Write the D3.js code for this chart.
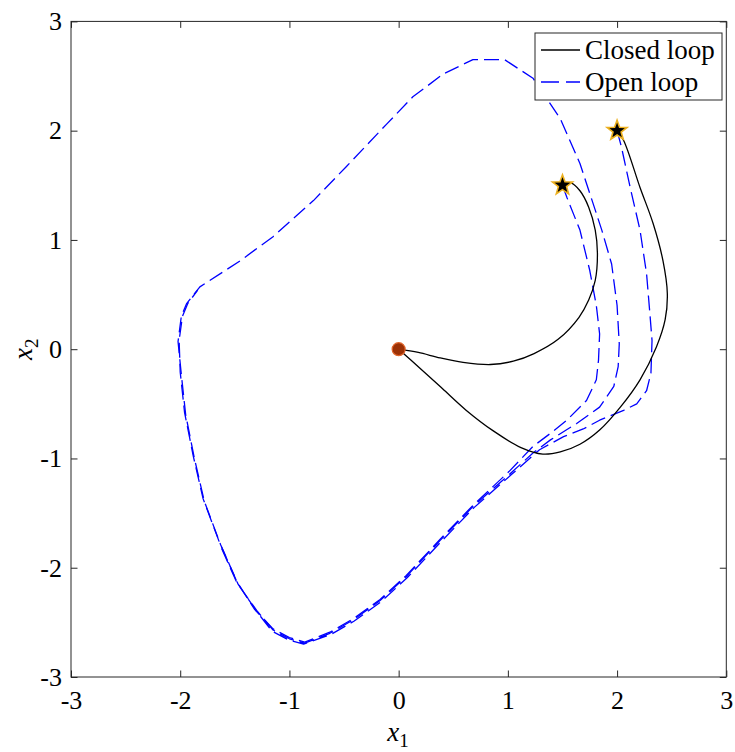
<!DOCTYPE html>
<html>
<head>
<meta charset="utf-8">
<script src="https://cdn.jsdelivr.net/npm/d3@7"></script>
<style>
  html, body { margin: 0; padding: 0; background: #fff; }
  svg { display: block; }
</style>
</head>
<body>
<div id="chart"></div>
<script>
// ---------------- Data ----------------
const xTickValues = [-3, -2, -1, 0, 1, 2, 3];
const yTickValues = [-3, -2, -1, 0, 1, 2, 3];
const xTickLabels = ["-3", "-2", "-1", "0", "1", "2", "3"];
const yTickLabels = ["-3", "-2", "-1", "0", "1", "2", "3"];

const seriesNames = ["Closed loop", "Open loop"];

const startPoints = [[1.5, 1.5], [2, 2]];
const equilibrium = [0, 0];

const closedLoop1 = [
  [1.5, 1.5], [1.58, 1.52], [1.66, 1.45], [1.74, 1.30], [1.80, 1.09], [1.82, 0.88],
  [1.80, 0.63], [1.74, 0.45], [1.65, 0.29], [1.46, 0.09], [1.24, -0.04], [1.05, -0.11],
  [0.84, -0.14], [0.59, -0.12], [0.38, -0.08], [0.18, -0.03], [0, 0]
];

const closedLoop2 = [
  [2, 2], [2.06, 1.91], [2.21, 1.48], [2.33, 1.15], [2.42, 0.81], [2.46, 0.51],
  [2.44, 0.27], [2.36, 0.02], [2.21, -0.28], [2.03, -0.53], [1.84, -0.74], [1.66, -0.87],
  [1.48, -0.94], [1.32, -0.96], [1.12, -0.90], [0.87, -0.75], [0.62, -0.56], [0.40, -0.36],
  [0.19, -0.17], [0, 0]
];

const openLoop1 = [
  [1.5, 1.5], [1.54, 1.39], [1.66, 1.09], [1.75, 0.72], [1.81, 0.40], [1.84, 0.14],
  [1.83, -0.10], [1.81, -0.28], [1.72, -0.47], [1.54, -0.65], [1.39, -0.77], [1.23, -0.89],
  [1.01, -1.12], [0.68, -1.43], [0.38, -1.74], [0.07, -2.07], [-0.17, -2.29], [-0.42, -2.47],
  [-0.63, -2.59], [-0.86, -2.68], [-1.00, -2.64], [-1.15, -2.56], [-1.32, -2.38], [-1.48, -2.13],
  [-1.64, -1.77], [-1.79, -1.37], [-1.88, -0.98], [-1.96, -0.58], [-2.00, -0.21], [-2.01, 0.08],
  [-1.98, 0.30], [-1.93, 0.42], [-1.84, 0.54]
];

const openLoop2 = [
  [2, 2], [2.04, 1.85], [2.12, 1.48], [2.21, 1.09], [2.27, 0.69], [2.30, 0.33], [2.32, 0.08],
  [2.31, -0.22], [2.27, -0.38], [2.18, -0.50], [2.06, -0.56], [1.84, -0.65], [1.69, -0.73],
  [1.51, -0.80], [1.29, -0.92], [1.03, -1.15], [0.69, -1.45], [0.39, -1.76], [0.08, -2.09],
  [-0.16, -2.31], [-0.41, -2.49], [-0.62, -2.61], [-0.87, -2.70], [-1.01, -2.66], [-1.16, -2.58],
  [-1.30, -2.40], [-1.47, -2.15], [-1.63, -1.79], [-1.78, -1.39], [-1.87, -1.00], [-1.95, -0.60],
  [-1.99, -0.23], [-2.02, 0.07], [-1.99, 0.30], [-1.94, 0.42], [-1.82, 0.57], [-1.45, 0.81],
  [-1.15, 1.03], [-0.78, 1.36], [-0.48, 1.67], [-0.11, 2.06], [0.13, 2.31], [0.41, 2.52],
  [0.68, 2.65], [0.97, 2.65], [1.23, 2.48], [1.48, 2.11], [1.66, 1.70], [1.86, 1.09],
  [1.95, 0.78], [2.00, 0.40], [2.02, 0.05], [2.01, -0.16], [1.97, -0.34], [1.84, -0.53],
  [1.63, -0.68], [1.39, -0.83], [1.23, -0.95], [1.02, -1.14], [0.68, -1.44], [0.38, -1.75],
  [0.07, -2.08], [-0.17, -2.30], [-0.42, -2.48], [-0.63, -2.60], [-0.86, -2.69], [-1.00, -2.65],
  [-1.15, -2.57], [-1.30, -2.39], [-1.48, -2.14], [-1.64, -1.78]
];

// ---------------- Layout ----------------
const W = 735, H = 752;
const plot = { left: 71, right: 726.3, top: 21.4, bottom: 677 };
const serif = "'Liberation Serif', 'Times New Roman', serif";
const axisColor = "#262626";

const svg = d3.select("#chart").append("svg")
  .attr("width", W).attr("height", H)
  .attr("viewBox", `0 0 ${W} ${H}`);

svg.append("rect").attr("width", W).attr("height", H).attr("fill", "#fff");

const x = d3.scaleLinear().domain([-3, 3]).range([plot.left, plot.right]);
const y = d3.scaleLinear().domain([-3, 3]).range([plot.bottom, plot.top]);

svg.append("clipPath").attr("id", "clip")
  .append("rect").attr("x", plot.left).attr("y", plot.top)
  .attr("width", plot.right - plot.left).attr("height", plot.bottom - plot.top);

const g = svg.append("g").attr("clip-path", "url(#clip)");

const smoothLine = d3.line().x(d => x(d[0])).y(d => y(d[1])).curve(d3.curveCatmullRom.alpha(0.5));
const polyLine = d3.line().x(d => x(d[0])).y(d => y(d[1])).curve(d3.curveLinear);

// open loop (dashed blue)
[openLoop1, openLoop2].forEach(data => {
  g.append("path").datum(data)
    .attr("d", polyLine)
    .attr("fill", "none")
    .attr("stroke", "#0000FF")
    .attr("stroke-width", 1.3)
    .attr("stroke-linejoin", "round")
    .attr("stroke-dasharray", "15,6");
});

// closed loop (solid black)
[closedLoop1, closedLoop2].forEach(data => {
  g.append("path").datum(data)
    .attr("d", smoothLine)
    .attr("fill", "none")
    .attr("stroke", "#000")
    .attr("stroke-width", 1.3);
});

// star markers
function starPath(R, r) {
  const pts = [];
  for (let i = 0; i < 10; i++) {
    const a = -Math.PI / 2 + i * Math.PI / 5;
    const rr = i % 2 === 0 ? R : r;
    pts.push([rr * Math.cos(a), rr * Math.sin(a)]);
  }
  return "M" + pts.map(p => p[0].toFixed(2) + "," + p[1].toFixed(2)).join("L") + "Z";
}
startPoints.forEach(p => {
  g.append("path")
    .attr("d", starPath(10.5, 4.3))
    .attr("transform", `translate(${x(p[0])},${y(p[1])})`)
    .attr("fill", "#000")
    .attr("stroke", "#EDB120")
    .attr("stroke-width", 1.6)
    .attr("stroke-linejoin", "miter");
});

// equilibrium marker
g.append("circle")
  .attr("cx", x(equilibrium[0])).attr("cy", y(equilibrium[1]))
  .attr("r", 6.5)
  .attr("fill", "#9C3106")
  .attr("stroke", "#E0642A")
  .attr("stroke-width", 1.2);

// ---------------- Axes ----------------
const tickLen = 6.5;
const axes = svg.append("g");

axes.append("rect")
  .attr("x", plot.left).attr("y", plot.top)
  .attr("width", plot.right - plot.left).attr("height", plot.bottom - plot.top)
  .attr("fill", "none").attr("stroke", axisColor).attr("stroke-width", 1);

const xAxisB = d3.axisBottom(x).tickValues(xTickValues).tickSize(-tickLen).tickPadding(14)
  .tickFormat((d, i) => xTickLabels[i]);
const xAxisT = d3.axisTop(x).tickValues(xTickValues).tickSize(-tickLen).tickFormat("");
const yAxisL = d3.axisLeft(y).tickValues(yTickValues).tickSize(-tickLen).tickPadding(9)
  .tickFormat((d, i) => yTickLabels[i]);
const yAxisR = d3.axisRight(y).tickValues(yTickValues).tickSize(-tickLen).tickFormat("");

function styleAxis(sel) {
  sel.select(".domain").remove();
  sel.selectAll(".tick line").attr("stroke", axisColor).attr("stroke-width", 1);
  sel.selectAll(".tick text")
    .attr("fill", "#000")
    .style("font-family", serif)
    .style("font-size", "26px");
}

axes.append("g").attr("transform", `translate(0,${plot.bottom})`).call(xAxisB).call(styleAxis);
axes.append("g").attr("transform", `translate(0,${plot.top})`).call(xAxisT).call(styleAxis);
axes.append("g").attr("transform", `translate(${plot.left},0)`).call(yAxisL).call(styleAxis);
axes.append("g").attr("transform", `translate(${plot.right},0)`).call(yAxisR).call(styleAxis);

// axis labels
const xl = svg.append("text")
  .attr("x", 398).attr("y", 741)
  .attr("text-anchor", "middle")
  .style("font-family", serif).style("font-size", "27px");
xl.append("tspan").style("font-style", "italic").text("x");
xl.append("tspan").attr("dy", 6).style("font-size", "19px").text("1");

const yl = svg.append("text")
  .attr("transform", `translate(32,${(plot.top + plot.bottom) / 2}) rotate(-90)`)
  .attr("text-anchor", "middle")
  .style("font-family", serif).style("font-size", "27px");
yl.append("tspan").style("font-style", "italic").text("x");
yl.append("tspan").attr("dy", 6).style("font-size", "19px").text("2");

// ---------------- Legend ----------------
const leg = svg.append("g");
leg.append("rect")
  .attr("x", 535).attr("y", 33).attr("width", 187).attr("height", 67)
  .attr("fill", "#fff").attr("stroke", axisColor).attr("stroke-width", 1);

const legItems = [
  { name: seriesNames[0], color: "#000", dash: null, y: 50 },
  { name: seriesNames[1], color: "#0000FF", dash: "18,7", y: 82 }
];
legItems.forEach(it => {
  leg.append("line")
    .attr("x1", 541).attr("x2", 580).attr("y1", it.y).attr("y2", it.y)
    .attr("stroke", it.color).attr("stroke-width", 1.3)
    .attr("stroke-dasharray", it.dash);
  leg.append("text")
    .attr("x", 585).attr("y", it.y + 9)
    .style("font-family", serif).style("font-size", "27px")
    .attr("fill", "#000")
    .text(it.name);
});
</script>
</body>
</html>
